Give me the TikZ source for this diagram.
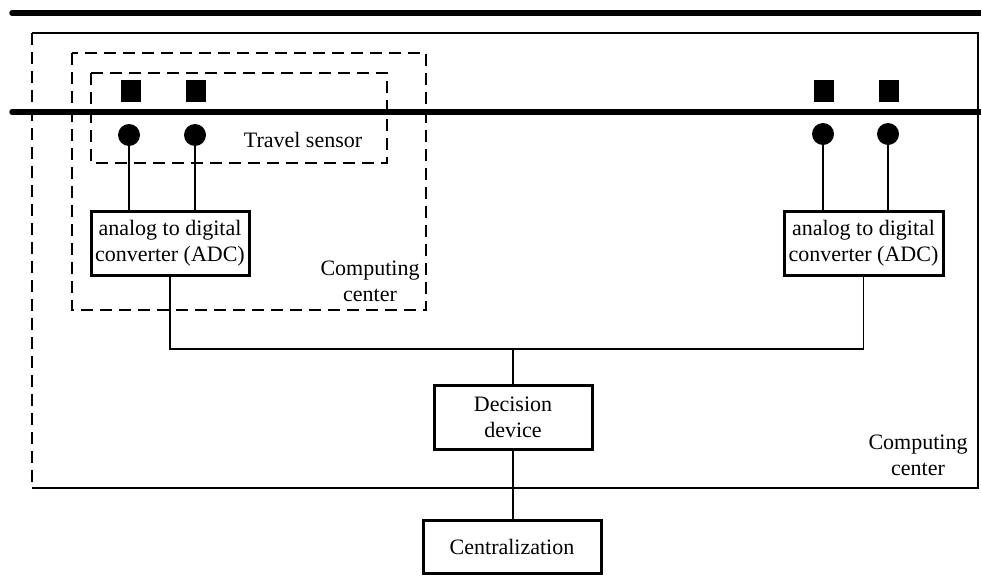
\documentclass[tikz,border=0pt]{standalone}
\usepackage{fontspec}
\setmainfont{Liberation Serif}
\begin{document}
\begin{tikzpicture}[x=1pt,y=-1pt,
  lbl/.style={font=\fontsize{22}{26}\selectfont, align=center, inner sep=0pt},
  boxnode/.style={draw, line width=3pt, font=\fontsize{22}{26}\selectfont, align=center, inner sep=1pt},
  wire/.style={line width=1.8pt},
  rail/.style={line width=5.5pt, line cap=round},
  dashbox/.style={line width=1.8pt, dash pattern=on 12pt off 7pt},
  sq/.style={fill=black, inner sep=0pt, minimum width=20pt, minimum height=22pt},
  dot/.style={circle, fill=black, inner sep=0pt, minimum size=22pt}]
\useasboundingbox (0,0) rectangle (981,575);
% rails
\draw[rail] (12,13) -- (985,13);
\draw[rail] (12,112) -- (985,112);
% outer computing center
\draw[line width=1.8pt] (32,33) -- (978,33) -- (978,488) -- (32,488);
\draw[dashbox] (32,33) -- (32,488);
% inner computing center and travel sensor
\draw[dashbox] (72,53) rectangle (426,310);
\draw[dashbox] (91,73) rectangle (387,163);
% sensors
\node[sq] (s1) at (131,91) {};
\node[sq] (s2) at (196,91) {};
\node[sq] (s3) at (824,91) {};
\node[sq] (s4) at (889,91) {};
\node[dot] (c1) at (129,135) {};
\node[dot] (c2) at (195,135) {};
\node[dot] (c3) at (823,134) {};
\node[dot] (c4) at (888,134) {};
% labels
\node[lbl] (ts) at (303,140) {Travel sensor};
\node[lbl] (cc1) at (370,281) {Computing\\center};
\node[lbl] (cc2) at (918,455) {Computing\\center};
% boxes
\node[boxnode, minimum width=158pt, minimum height=64pt] (adc1) at (170,243) {analog to digital\\converter (ADC)};
\node[boxnode, minimum width=159pt, minimum height=64pt] (adc2) at (863.5,243) {analog to digital\\converter (ADC)};
\node[boxnode, minimum width=158pt, minimum height=64pt] (dec) at (513,417) {Decision\\device};
\node[boxnode, minimum width=178pt, minimum height=53pt] (cen) at (512,546.5) {Centralization};
% wires
\draw[wire] (c1) -- (c1 |- adc1.north);
\draw[wire] (c2) -- (c2 |- adc1.north);
\draw[wire] (c3) -- (c3 |- adc2.north);
\draw[wire] (c4) -- (c4 |- adc2.north);
\coordinate (j) at (513,349);
\draw[wire] (adc1.south) |- (j) -| (adc2.south);
\draw[wire] (j) -- (dec.north);
\draw[wire] (dec.south) -- (dec.south |- cen.north);
\end{tikzpicture}
\end{document}
